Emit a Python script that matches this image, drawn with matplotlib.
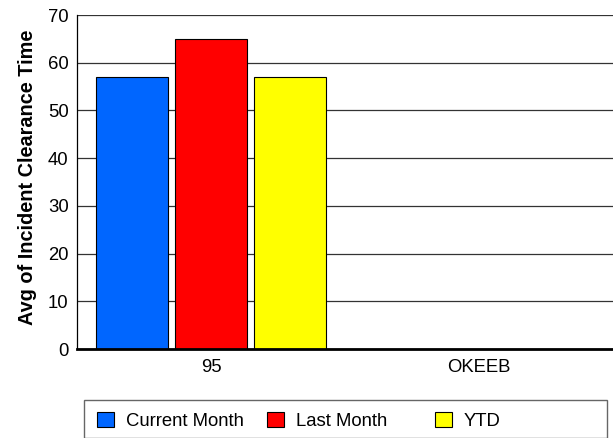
import matplotlib
matplotlib.use("Agg")
import matplotlib.pyplot as plt
import numpy as np
from matplotlib.patches import Rectangle

categories = ["95", "OKEEB"]
series_names = ["Current Month", "Last Month", "YTD"]
current_month = [57, np.nan]
last_month = [65, np.nan]
ytd = [57, np.nan]
colors = ["#0066FF", "#FF0000", "#FFFF00"]
yticks = [0, 10, 20, 30, 40, 50, 60, 70]

plt.rcParams['font.family'] = ['Liberation Sans', 'DejaVu Sans']

W, H = 613, 438
FS = 13.3
fig = plt.figure(figsize=(W / 100, H / 100), dpi=100)
ax = fig.add_axes([77 / W, 1 - 349 / H, (W - 77) / W, (349 - 15) / H])

x = np.arange(len(categories))
offset = 0.295
width = 0.27
bars = []
for i, (vals, c, name) in enumerate(zip([current_month, last_month, ytd], colors, series_names)):
    b = ax.bar(x + (i - 1) * offset, vals, width, color=c, edgecolor="black", linewidth=0.8, label=name, zorder=3)
    bars.append(b)

ax.set_xlim(-0.5, 1.5)
ax.set_ylim(0, 70)
ax.set_yticks(yticks)
ax.set_xticks(x)
ax.set_xticklabels(categories)
ax.tick_params(axis="both", length=0, labelsize=FS, colors="black")
ax.tick_params(axis="x", pad=7)
ax.tick_params(axis="y", pad=6)
ax.yaxis.grid(True, color="#333333", linewidth=0.9, zorder=1)
ax.set_axisbelow(True)
for s in ["top", "right"]:
    ax.spines[s].set_visible(False)
ax.spines["left"].set_linewidth(0.9)
ax.spines["bottom"].set_linewidth(2)
ax.spines["bottom"].set_zorder(4)
ax.set_ylabel("Avg of Incident Clearance Time", fontsize=14.3, fontweight="bold", labelpad=8)
ax.yaxis.label.set_y(0.515)

# legend frame
fig.patches.append(Rectangle((84 / W, 0), (607 - 84) / W, 1 - 400 / H, transform=fig.transFigure,
                             fill=False, edgecolor="#666666", linewidth=1))
starts = [97, 267, 435]
for b, name, sx in zip(bars, series_names, starts):
    fig.legend([b], [name], loc="center left", bbox_to_anchor=(sx / W, 1 - 421 / H),
               frameon=False, fontsize=FS, handlelength=17 / (FS * 100 / 72), handleheight=16 / (FS * 100 / 72),
               handletextpad=0.65, borderpad=0, borderaxespad=0)

fig.savefig("out.png", dpi=100)
